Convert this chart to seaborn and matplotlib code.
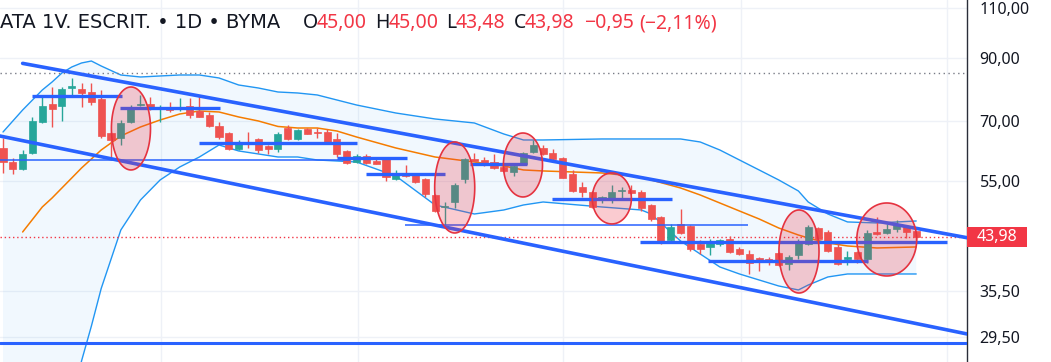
import numpy as np
import matplotlib
matplotlib.use("Agg")
import matplotlib.pyplot as plt
from matplotlib.patches import Rectangle
from matplotlib.ticker import FixedLocator, NullLocator
import seaborn as sns

sns.set_theme(style="white")
plt.rcParams['font.family'] = ['Noto Sans', 'DejaVu Sans']

# ---------------- data ----------------
opens = [62.81, 59.38, 57.75, 61.57, 69.69, 74.89, 74.29, 79.84, 79.52, 78.57,
         76.40, 66.68, 65.37, 69.69, 74.59, 74.89, 73.70, 73.70, 73.41, 74.29,
         72.82, 71.67, 68.58, 66.68, 62.56, 64.33, 65.11, 63.31, 62.56, 68.03,
         65.11, 67.76, 67.00, 66.95, 65.11, 62.06, 59.38, 60.83, 59.62, 60.10,
         55.48, 56.83, 56.37, 55.48, 52.04, 49.60, 50.60, 55.48, 60.10, 59.86,
         59.38, 58.21, 57.06, 58.91, 61.81, 62.81, 61.57, 60.34, 56.60, 53.73,
         52.67, 51.21, 51.42, 52.90, 53.09, 52.67, 50.00, 47.66, 43.47, 46.35,
         45.97, 42.78, 42.27, 42.78, 43.64, 41.93, 41.10, 40.45, 40.29, 41.26,
         39.49, 40.94, 42.78, 45.60, 44.88, 42.27, 40.29, 41.43, 40.29, 44.88,
         44.70, 45.42, 45.97, 45.00]
highs = [65.37, 60.34, 62.30, 71.10, 77.01, 80.16, 80.16, 83.10, 81.45, 81.45,
         79.20, 66.90, 70.25, 74.59, 77.64, 77.01, 74.59, 75.49, 76.71, 76.71,
         77.64, 72.53, 69.69, 66.90, 64.85, 66.95, 65.37, 63.50, 66.95, 68.85,
         67.76, 67.90, 68.03, 67.76, 66.68, 62.20, 61.32, 61.32, 60.58, 60.34,
         57.52, 58.68, 56.83, 55.60, 52.20, 50.60, 54.60, 60.34, 61.57, 60.58,
         61.32, 58.44, 59.15, 61.81, 64.85, 63.56, 62.56, 60.50, 57.52, 54.82,
         52.80, 51.83, 54.16, 53.73, 54.16, 53.09, 50.20, 47.80, 46.35, 49.20,
         46.10, 43.47, 43.64, 43.64, 44.17, 42.27, 41.76, 40.61, 40.61, 41.40,
         40.94, 43.64, 46.16, 45.80, 45.24, 42.95, 41.60, 41.60, 45.24, 47.66,
         46.35, 47.09, 46.10, 45.00]
lows = [56.83, 56.60, 57.50, 61.30, 69.50, 68.31, 69.97, 77.64, 73.99, 74.59,
        65.37, 59.86, 63.56, 69.50, 74.40, 73.11, 69.69, 72.53, 72.82, 70.82,
        71.00, 68.31, 65.11, 62.40, 62.30, 62.81, 61.57, 61.32, 61.81, 64.85,
        64.90, 66.30, 65.37, 64.20, 60.58, 58.91, 59.15, 58.91, 58.80, 55.04,
        55.26, 55.92, 54.70, 51.63, 48.62, 46.16, 49.40, 54.60, 59.50, 58.44,
        57.75, 57.06, 56.15, 58.68, 61.60, 61.07, 59.90, 55.60, 52.67, 51.63,
        49.40, 50.40, 50.40, 51.42, 52.30, 48.81, 46.90, 42.78, 43.12, 44.60,
        41.60, 41.10, 40.94, 42.44, 41.30, 40.94, 37.94, 38.40, 39.33, 39.17,
        38.55, 40.29, 42.61, 43.47, 41.43, 39.33, 39.33, 39.64, 39.64, 44.40,
        44.60, 44.88, 43.82, 43.48]
closes = [59.38, 57.75, 61.32, 69.97, 74.29, 73.41, 79.52, 80.48, 78.26, 75.49,
          65.89, 64.85, 69.41, 73.99, 74.89, 73.41, 73.99, 73.11, 73.70, 71.67,
          71.10, 68.58, 65.63, 62.56, 64.08, 63.82, 62.30, 62.56, 66.42, 65.11,
          67.49, 66.42, 66.80, 64.33, 61.32, 59.15, 60.83, 59.15, 58.91, 55.92,
          56.60, 56.15, 54.82, 52.25, 48.81, 49.70, 54.16, 60.10, 59.62, 58.68,
          57.98, 57.29, 58.44, 61.57, 63.56, 61.32, 60.10, 55.70, 52.88, 52.67,
          49.60, 51.63, 52.67, 53.09, 52.46, 49.40, 47.28, 43.12, 45.79, 44.70,
          41.93, 41.93, 42.95, 43.47, 41.43, 41.10, 39.64, 39.80, 39.80, 39.33,
          40.61, 42.95, 45.79, 43.64, 41.60, 39.49, 40.61, 40.29, 44.70, 44.52,
          45.42, 46.16, 44.93, 43.98]

# Bollinger band samples (bar index -> price)
band_x = [0, 2, 4, 5, 6, 7, 8, 9, 10, 12, 14, 16, 18, 20, 22, 24, 26, 28, 30, 32,
          34, 36, 40, 44, 48, 51, 53, 55, 61, 65, 66, 69, 71, 73, 75, 77, 79, 81,
          82, 84, 86, 89, 93]
bb_upper = [66.95, 73.11, 79.20, 81.78, 84.78, 86.83, 88.24, 88.94, 87.18, 84.10,
            83.43, 83.77, 84.10, 84.10, 83.10, 80.80, 79.84, 78.57, 78.26, 77.64,
            76.10, 74.59, 72.24, 70.53, 69.41, 66.42, 64.85, 64.85, 65.11, 65.11,
            65.11, 65.11, 64.33, 62.30, 59.86, 57.52, 55.26, 52.88, 50.60, 48.23,
            46.72, 46.53, 46.90]
bb_basis = [np.nan, 44.88, 49.60, 51.42, 53.52, 55.70, 57.98, 60.10, 62.30, 65.89,
            68.31, 70.25, 71.95, 72.82, 72.53, 71.10, 69.97, 68.45, 68.03, 68.03,
            67.22, 65.63, 62.81, 60.58, 59.38, 58.44, 57.52, 57.29, 56.83, 55.92,
            55.26, 53.52, 52.04, 50.40, 48.81, 47.28, 45.60, 44.34, 43.82, 42.95,
            42.44, 42.10, 42.27]
bb_lower = [15.0, 16.0, 17.0, 18.5, 20.0, 22.5, 26.8, 30.8, 35.8, 45.24,
            51.01, 55.26, 58.21, 60.58, 63.56, 62.06, 61.32, 60.58, 60.58, 59.86,
            59.62, 59.38, 56.15, 50.00, 48.23, 49.01, 50.00, 50.60, 49.60, 49.01,
            48.23, 43.29, 41.10, 39.02, 37.94, 37.04, 36.16, 35.59, 36.30, 37.49,
            37.94, 37.94, 37.94]

# drawings
trend_upper_x = [2, 99]
trend_upper_y = [88.1, 43.6]
trend_lower_x = [-1, 99]
trend_lower_y = [66.25, 29.65]
hseg_start = [2.95, 11.9, 19.96, 34.0, 37.0, 47.6, 55.9, 64.9, 71.8]
hseg_end = [12.1, 22.1, 36.05, 41.1, 45.0, 53.4, 68.1, 96.1, 88.1]
hseg_price = [77.32, 73.55, 63.95, 60.34, 56.5, 58.91, 51.2, 43.12, 39.96]
thin_start = [-1.0, 40.9]
thin_end = [35.3, 75.9]
thin_price = [59.86, 46.16]
floor_price = 28.8
ell_x = [13.03, 46.0, 52.95, 62.0, 81.06, 90.0]
ell_halfw = [1.99, 2.04, 1.99, 1.99, 2.04, 3.05]
ell_low = [57.52, 44.70, 51.63, 46.35, 35.16, 37.64]
ell_high = [80.16, 64.33, 66.68, 56.83, 49.01, 50.40]
high_line = 84.8

price_ticks = [29.5, 35.5, 55.0, 70.0, 90.0, 110.0]
month_lines = [16.1, 36.2, 57.0, 75.2, 96.1]
symbol_title = "ATA 1V. ESCRIT. \u2022 1D \u2022 BYMA"

# ---------------- styling ----------------
GREEN = '#26a69a'
RED = '#ef5350'
TVRED = '#f23645'
TEXT = '#131722'
GRID = '#eef1f7'
DRAW_BLUE = '#2962ff'
BB_BLUE = '#2196f3'
ORANGE = '#f57c00'
W, H = 1051, 362

fig = plt.figure(figsize=(W / 100, H / 100), dpi=100)
fig.patch.set_facecolor('white')
ax = fig.add_axes([0, 0, 967 / W, 1])
ax.set_facecolor('white')
ax.set_yscale('log')

idx = np.arange(len(closes))
o = np.array(opens); c = np.array(closes)
hi = np.array(highs); lo = np.array(lows)
cols = np.where(c >= o, GREEN, RED)

# grid
for p in price_ticks:
    ax.axhline(p, color=GRID, lw=1, zorder=0)
for m in month_lines:
    ax.axvline(m, color=GRID, lw=1, zorder=0)

# Bollinger bands
ax.fill_between(band_x, bb_lower, bb_upper, color=BB_BLUE, alpha=0.06, lw=0, zorder=1)
sns.lineplot(x=band_x, y=bb_upper, ax=ax, color=BB_BLUE, lw=1.0, zorder=2)
sns.lineplot(x=band_x, y=bb_lower, ax=ax, color=BB_BLUE, lw=1.0, zorder=2)
sns.lineplot(x=band_x, y=bb_basis, ax=ax, color=ORANGE, lw=1.1, zorder=2)

# price lines
ax.axhline(closes[-1], color=TVRED, lw=1, ls=(0, (1, 2)), zorder=3)
ax.axhline(high_line, color='#787b86', lw=1, ls=(0, (1, 2.5)), zorder=3)

# candles
ax.vlines(idx, lo, hi, colors=cols, lw=1, zorder=4)
ax.bar(idx, np.abs(c - o), bottom=np.minimum(o, c), width=0.72, color=cols,
       edgecolor=cols, linewidth=0.5, zorder=5)

# drawings
ax.plot(trend_upper_x, trend_upper_y, color=DRAW_BLUE, lw=2.6, solid_capstyle='round', zorder=6)
ax.plot(trend_lower_x, trend_lower_y, color=DRAW_BLUE, lw=2.6, solid_capstyle='round', zorder=6)
ax.hlines(hseg_price, hseg_start, hseg_end, colors=DRAW_BLUE, lw=2.4, zorder=6)
ax.hlines(thin_price, thin_start, thin_end, colors=DRAW_BLUE, lw=1.1, zorder=6)
ax.axhline(floor_price, color=DRAW_BLUE, lw=2.2, zorder=6)

t = np.linspace(0, 2 * np.pi, 200)
for cx, hw, l, h in zip(ell_x, ell_halfw, ell_low, ell_high):
    lc = 0.5 * (np.log(l) + np.log(h))
    lr = 0.5 * (np.log(h) - np.log(l))
    ax.fill(cx + hw * np.cos(t), np.exp(lc + lr * np.sin(t)),
            facecolor=(0.93, 0.2, 0.27, 0.25), edgecolor='#e53340', lw=1.2, zorder=7)

# axes
ax.set_xlim(-0.3055, 98.17)
ax.set_ylim(26.68, 113.52)
ax.set_xlabel(''); ax.set_ylabel('')
ax.set_xticks([])
ax.yaxis.tick_right()
ax.yaxis.set_major_locator(FixedLocator(price_ticks))
ax.yaxis.set_minor_locator(NullLocator())
ax.set_yticklabels([f"{v:.2f}".replace('.', ',') for v in price_ticks])
ax.tick_params(axis='y', length=0, pad=9, labelsize=11.5, labelcolor=TEXT)
for s in ['top', 'left', 'bottom']:
    ax.spines[s].set_visible(False)
ax.spines['right'].set_color('#2a2e39')
ax.spines['right'].set_linewidth(1)
if ax.get_legend():
    ax.get_legend().remove()

# last price tag (box on the price scale at the last close)
ypix = ax.transData.transform((0, closes[-1]))[1]
tag_left = ax.transAxes.transform((1, 0))[0]
fig.patches.append(Rectangle((tag_left, ypix - 10), 60, 20, transform=None,
                             facecolor=TVRED, edgecolor='none', zorder=10))
fig.text((tag_left + 30) / W, ypix / H, f"{closes[-1]:.2f}".replace('.', ','),
         color='white', fontsize=11.5, fontweight='bold', va='center', ha='center', zorder=11)

# title / legend line
def fmt(v):
    return f"{v:.2f}".replace('.', ',')

chg = closes[-1] - closes[-2]
pct = chg / closes[-2] * 100
fig.text(0, 1 - 23 / H, symbol_title, color=TEXT, fontsize=14,
         family='DejaVu Sans', va='center', ha='left')
pieces = [("O", 303, TEXT), (fmt(opens[-1]), 317, TVRED),
          ("H", 375, TEXT), (fmt(highs[-1]), 389, TVRED),
          ("L", 446, TEXT), (fmt(lows[-1]), 456, TVRED),
          ("C", 514, TEXT), (fmt(closes[-1]), 525, TVRED),
          ("\u2212" + fmt(abs(chg)), 584, TVRED),
          ("(\u2212" + fmt(abs(pct)) + "%)", 639, TVRED)]
for s, xpx, col in pieces:
    fig.text(xpx / W, 1 - 23 / H, s, color=col, fontsize=14, va='center', ha='left')

fig.savefig('out.png', dpi=100)
